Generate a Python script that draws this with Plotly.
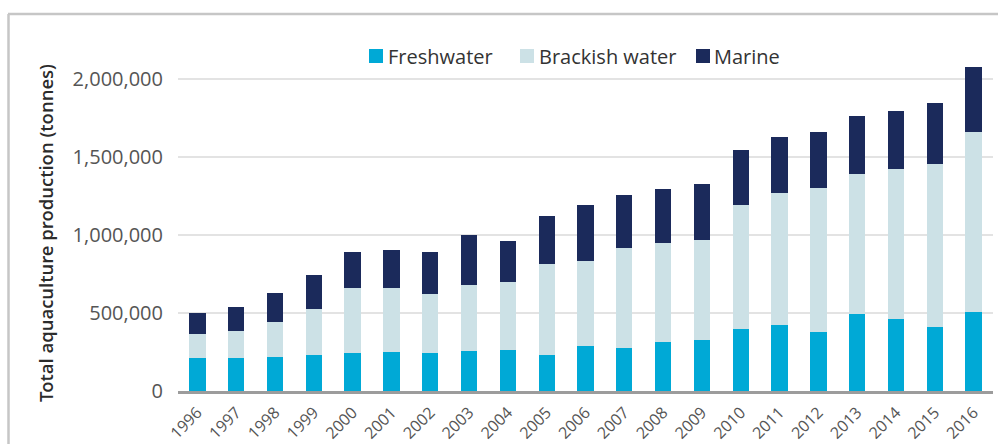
import plotly.graph_objects as go

years = [str(y) for y in range(1996, 2017)]
freshwater = [211000, 211000, 218000, 233000, 243000, 252000, 243000, 256000, 263000, 233000, 288000,
              278000, 316000, 327000, 397000, 423000, 376000, 492000, 460000, 408000, 505000]
brackish = [157000, 172000, 227000, 293000, 417000, 410000, 381000, 427000, 437000, 582000, 548000,
            642000, 633000, 642000, 799000, 850000, 926000, 903000, 967000, 1046000, 1159000]
marine = [134000, 154000, 181000, 216000, 230000, 245000, 266000, 320000, 260000, 308000, 360000,
          337000, 345000, 361000, 348000, 355000, 358000, 372000, 372000, 392000, 418000]
series_names = ["Freshwater", "Brackish water", "Marine"]
series_colors = ["#00A9D6", "#CCE1E6", "#1B2A5B"]
y_tickvals = [0, 500000, 1000000, 1500000, 2000000]

W, H = 998, 444
L, R, T, B = 178, 5, 60, 53
PW = W - L - R
PH = H - T - B


def px(xp):
    return (xp - L) / PW


def py(yp):
    return (H - B - yp) / PH


fig = go.Figure()
for name, vals, col in zip(series_names, [freshwater, brackish, marine], series_colors):
    fig.add_trace(go.Bar(x=years, y=vals, name=name, marker=dict(color=col, line=dict(width=0)),
                         showlegend=False))

font_family = "Open Sans, Noto Sans, sans-serif"

shapes = []
annotations = []
# custom legend
legend_sq = [376, 527, 703]
legend_tx = [386, 537, 712]
for name, col, sx, tx in zip(series_names, series_colors, legend_sq, legend_tx):
    shapes.append(dict(type="rect", xref="paper", yref="paper",
                       x0=px(sx - 7), x1=px(sx + 7), y0=py(63), y1=py(49),
                       fillcolor=col, line=dict(width=0)))
    annotations.append(dict(text=name, xref="paper", yref="paper", x=px(tx), y=py(56),
                            xanchor="left", yanchor="middle", showarrow=False,
                            font=dict(family=font_family, size=20, color="#333333")))

# y-axis title
annotations.append(dict(text="Total aquaculture production (tonnes)", xref="paper", yref="paper",
                        x=px(45), y=py(233), textangle=-90, xanchor="center", yanchor="middle",
                        showarrow=False,
                        font=dict(family="Open Sans SemiBold, Open Sans, sans-serif", size=18.5,
                                  color="#2b2b2b", weight=600)))

# frame border
shapes.append(dict(type="line", xref="paper", yref="paper", x0=px(8), x1=px(1000), y0=py(14), y1=py(14),
                   line=dict(color="#C6C6C6", width=2.5)))
shapes.append(dict(type="line", xref="paper", yref="paper", x0=px(8.5), x1=px(8.5), y0=py(14), y1=py(450),
                   line=dict(color="#C6C6C6", width=2.5)))

fig.update_layout(
    width=W, height=H,
    margin=dict(l=L, r=R, t=T, b=B, autoexpand=False),
    barmode="stack",
    bargap=0.58,
    plot_bgcolor="white",
    paper_bgcolor="white",
    font=dict(family=font_family, color="#555555"),
    shapes=shapes,
    annotations=annotations,
    xaxis=dict(type="category", tickangle=-45, tickfont=dict(size=16, color="#555555"),
               showgrid=False, showline=True, linecolor="#9C9C9C", linewidth=3,
               ticks="", range=[-0.5, 20.5], ticklabelstandoff=3),
    yaxis=dict(range=[0, PH / 155.8 * 1e6], tickvals=y_tickvals, tickformat=",d",
               tickfont=dict(size=20, color="#555555"), showgrid=True, gridcolor="#E3E3E3",
               gridwidth=2, zeroline=False, showline=False, ticks="", ticklabelstandoff=14),
)

fig.write_html("out.html", config={"displayModeBar": False},
               post_script="document.body.style.margin='0';document.body.style.overflow='hidden';")
